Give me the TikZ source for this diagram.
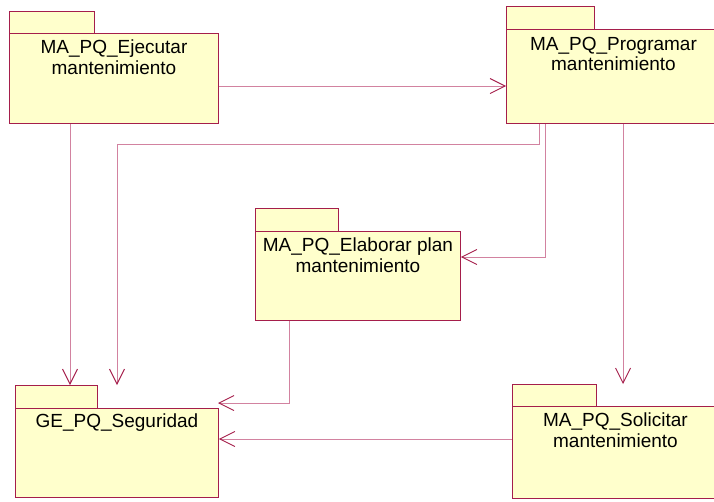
\documentclass[tikz,border=0pt]{standalone}
\usepackage{fontspec}
\setmainfont{Liberation Sans}
\usetikzlibrary{arrows.meta}
\definecolor{pkgborder}{RGB}{165,30,75}
\definecolor{pkgfill}{RGB}{255,255,204}
\definecolor{depline}{RGB}{210,130,160}
\tikzset{
  pkgbody/.style={draw=pkgborder, fill=pkgfill, line width=0.9pt, anchor=north west, inner sep=0pt},
  pkgtab/.style={draw=pkgborder, fill=pkgfill, line width=0.9pt},
  pkgtext/.style={anchor=north, align=center, inner sep=0pt, font=\fontsize{19}{20.5}\selectfont},
  dep/.style={draw=depline, line width=0.9pt, -{Straight Barb[length=15pt,width=15pt,line width=0.9pt,color=pkgborder]}}
}
\begin{document}
\begin{tikzpicture}[x=1pt,y=-1pt]
\useasboundingbox (0,0) rectangle (714,501);
% Ejecutar
\draw[pkgtab] (9,11) rectangle (94,33);
\node[pkgbody, minimum width=209pt, minimum height=90pt] (ej) at (9,33) {};
\node[pkgtext] (ejt) at ([yshift=-7pt]ej.north) {MA\_PQ\_Ejecutar\\mantenimiento};
% Programar
\draw[pkgtab] (506,6) rectangle (594,29);
\node[pkgbody, minimum width=214pt, minimum height=94pt] (pr) at (506,29) {};
\node[pkgtext] (prt) at ([yshift=-8pt]pr.north) {MA\_PQ\_Programar\\mantenimiento};
% Elaborar
\draw[pkgtab] (255,208) rectangle (338,231);
\node[pkgbody, minimum width=205pt, minimum height=89pt] (el) at (255,231) {};
\node[pkgtext] (elt) at ([yshift=-7pt]el.north) {MA\_PQ\_Elaborar plan\\mantenimiento};
% Seguridad
\draw[pkgtab] (15,385) rectangle (97,408);
\node[pkgbody, minimum width=203pt, minimum height=89pt] (sg) at (15,408) {};
\node[pkgtext] (sgt) at ([yshift=-6pt]sg.north) {GE\_PQ\_Seguridad};
% Solicitar
\draw[pkgtab] (512,384) rectangle (596,406);
\node[pkgbody, minimum width=206pt, minimum height=92pt] (so) at (512,406) {};
\node[pkgtext] (sot) at ([yshift=-7pt]so.north) {MA\_PQ\_Solicitar\\mantenimiento};
% helper coordinates
\coordinate (t1) at (70,385);
\coordinate (t2) at (117,385);
\coordinate (b2) at (117,144);
\coordinate (t5) at (623,384);
\coordinate (t6) at (218,403);
% connectors
\draw[dep] (ej.east |- 0,86) -- (pr.west |- 0,86);
\draw[dep] (ej.south -| 70,0) -- (t1);
\draw[dep] (pr.south -| 539,0) |- (b2) -- (t2);
\draw[dep] (pr.south -| 545,0) |- (el.east |- 0,257);
\draw[dep] (pr.south -| 623,0) -- (t5);
\draw[dep] (el.south -| 289,0) |- (t6);
\draw[dep] (so.west |- 0,439) -- (sg.east |- 0,439);
\end{tikzpicture}
\end{document}
